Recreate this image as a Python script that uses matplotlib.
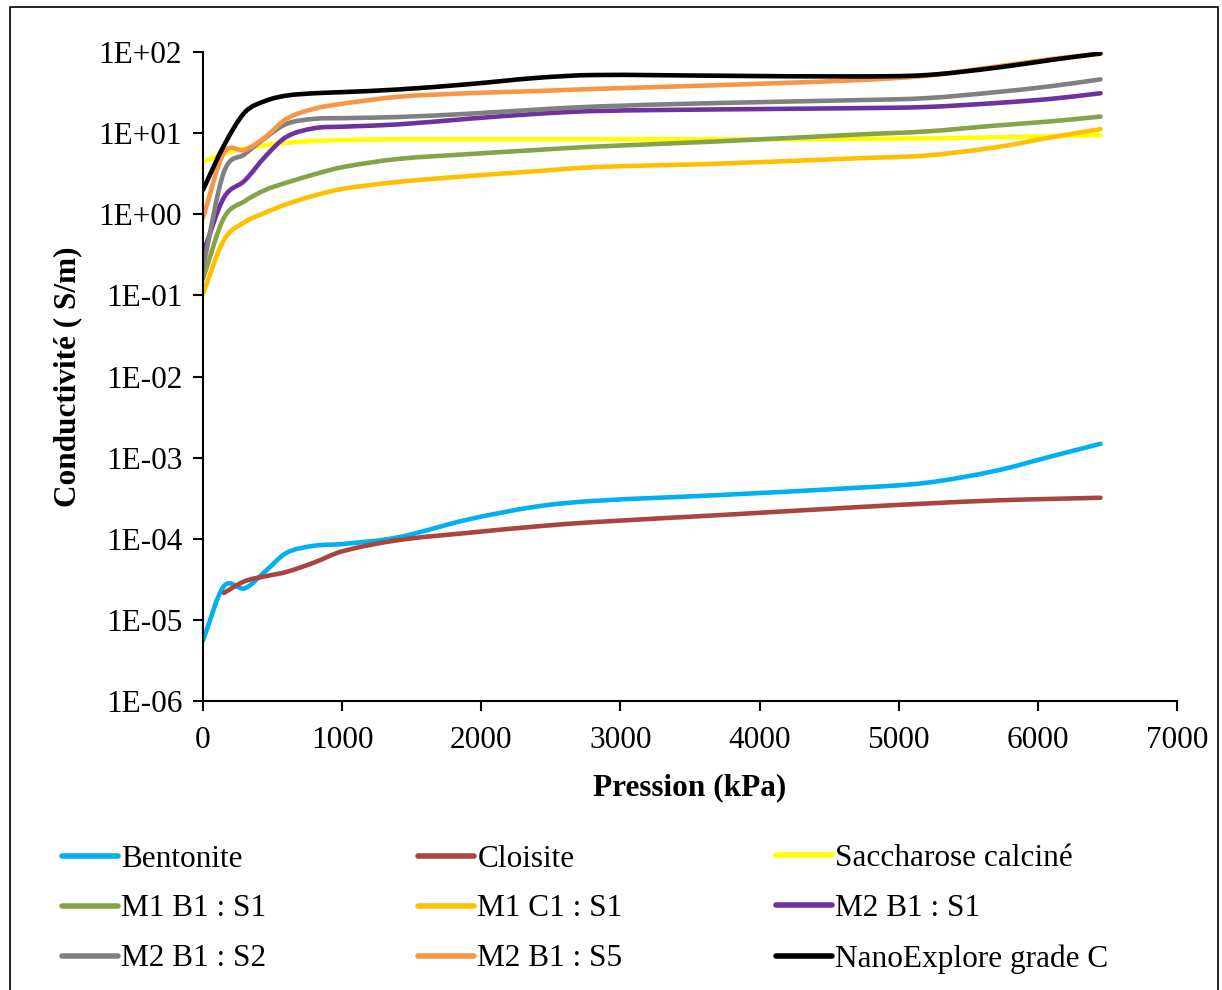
import numpy as np
import matplotlib
matplotlib.use("Agg")
import matplotlib.pyplot as plt
from matplotlib.path import Path
from matplotlib.patches import PathPatch, Rectangle
from matplotlib.lines import Line2D
from matplotlib.ticker import FixedLocator, FuncFormatter

# Pressure (kPa) at which conductivity was recorded
pression = [0, 150, 300, 450, 600, 800, 1000, 1400, 1900, 2400, 2800,
            3700, 4700, 5200, 5700, 6100, 6450]

# Conductivity (S/m) for each material
bentonite = [5.6e-6, 2.6e-5, 2.45e-5, 4.0e-5, 6.7e-5, 8.2e-5, 8.6e-5, 1.04e-4,
             1.72e-4, 2.5e-4, 2.92e-4, 3.45e-4, 4.25e-4, 4.9e-4, 6.9e-4, 1.04e-3, 1.48e-3]
cloisite = [None, 2.15e-5, 3.0e-5, 3.45e-5, 3.9e-5, 5.1e-5, 7.0e-5, 9.6e-5,
            1.18e-4, 1.42e-4, 1.6e-4, 1.95e-4, 2.45e-4, 2.72e-4, 2.97e-4, 3.1e-4, 3.2e-4]
saccharose = [4.4, 5.6, 6.5, 7.1, 7.6, 8.0, 8.2, 8.4, 8.4, 8.4, 8.4,
              8.4, 8.5, 8.6, 8.9, 9.2, 9.5]
m1_b1_s1 = [0.16, 0.9, 1.45, 2.0, 2.45, 3.1, 3.8, 4.8, 5.5, 6.2, 6.8,
            7.9, 9.6, 10.5, 12.4, 14.0, 16.0]
m1_c1_s1 = [0.105, 0.48, 0.8, 1.05, 1.33, 1.7, 2.05, 2.5, 2.95, 3.4, 3.8,
            4.2, 4.9, 5.3, 6.7, 8.9, 11.2]
m2_b1_s1 = [0.33, 1.6, 2.6, 5.2, 9.0, 11.5, 12.0, 12.8, 15.0, 17.3, 18.7,
            19.6, 20.3, 21.0, 23.5, 26.5, 31.0]
m2_b1_s2 = [0.22, 3.3, 5.5, 8.8, 13.0, 15.0, 15.3, 15.8, 17.3, 19.5, 21.2,
            23.5, 25.5, 27.0, 32.0, 38.0, 46.0]
m2_b1_s5 = [0.9, 5.7, 6.2, 9.0, 15.0, 20.0, 23.0, 28.0, 31.0, 33.0, 35.0,
            39.0, 45.0, 51.0, 66.0, 82.0, 95.0]
nanoexplore = [2.0, 7.0, 18.0, 25.0, 29.0, 31.0, 32.0, 34.5, 40.0, 48.0, 52.0,
               51.0, 50.0, 52.0, 64.0, 80.0, 96.0]

labels = ["Bentonite", "Cloisite", "Saccharose calciné",
          "M1 B1 : S1", "M1 C1 : S1", "M2 B1 : S1",
          "M2 B1 : S2", "M2 B1 : S5", "NanoExplore grade C"]
series = [bentonite, cloisite, saccharose, m1_b1_s1, m1_c1_s1, m2_b1_s1,
          m2_b1_s2, m2_b1_s5, nanoexplore]
colors = ["#00B0F0", "#A9443F", "#FFFF00", "#86A34A", "#FFC000", "#7030A0",
          "#808080", "#F79646", "#000000"]

plt.rcParams["font.family"] = ["Liberation Serif", "DejaVu Serif"]
FS = 22.5
LW = 3.3


def smooth_path(x, y):
    """Cubic Hermite (Bezier) path through the points, built in
    (x, log10 y) space so the curve is smooth on the log axis."""
    pts = [(xi, np.log10(yi)) for xi, yi in zip(x, y) if yi is not None]
    p = np.array(pts, dtype=float)
    px, py = p[:, 0], p[:, 1]
    n = len(p)
    m = np.empty(n)
    m[0] = (py[1] - py[0]) / (px[1] - px[0])
    m[-1] = (py[-1] - py[-2]) / (px[-1] - px[-2])
    for i in range(1, n - 1):
        m[i] = (py[i + 1] - py[i - 1]) / (px[i + 1] - px[i - 1])
    verts = [p[0]]
    codes = [Path.MOVETO]
    for i in range(n - 1):
        h = px[i + 1] - px[i]
        c1 = (px[i] + h / 3, py[i] + m[i] * h / 3)
        c2 = (px[i + 1] - h / 3, py[i + 1] - m[i + 1] * h / 3)
        verts += [c1, c2, p[i + 1]]
        codes += [Path.CURVE4] * 3
    v = np.array(verts, dtype=float)
    v[:, 1] = 10.0 ** v[:, 1]
    return Path(v, codes)


fig = plt.figure(figsize=(12.22, 9.9), dpi=100)
ax = fig.add_axes([203 / 1222, 1 - 701 / 990, (1177 - 203) / 1222, (701 - 52) / 990])
ax.set_yscale("log")
ax.set_xlim(0, 7000)
ax.set_ylim(1e-6, 1e2)

for vals, col in zip(series, colors):
    patch = PathPatch(smooth_path(pression, vals), facecolor="none", edgecolor=col,
                      lw=LW, capstyle="round", joinstyle="round")
    ax.add_patch(patch)

for side in ("top", "right"):
    ax.spines[side].set_visible(False)
for side in ("left", "bottom"):
    ax.spines[side].set_linewidth(1.5)

ax.xaxis.set_major_locator(FixedLocator(np.arange(0, 7001, 1000)))
ax.yaxis.set_major_locator(FixedLocator([10.0 ** e for e in range(-6, 3)]))
ax.yaxis.set_minor_locator(FixedLocator([]))
ax.yaxis.set_major_formatter(FuncFormatter(lambda v, _: "1E{:+03d}".format(int(round(np.log10(v))))))
ax.tick_params(axis="both", which="major", labelsize=FS, length=7, width=1.5,
               direction="out")
ax.tick_params(axis="y", pad=8)
ax.tick_params(axis="x", pad=11)

ax.set_xlabel("Pression (kPa)", fontsize=FS, fontweight="bold", labelpad=13)
ax.set_ylabel("Conductivité ( S/m)", fontsize=FS, fontweight="bold", labelpad=12)

# Legend: three columns of three entries
col_x = [62, 418, 776]
for c in range(3):
    idx = [c, c + 3, c + 6]
    handles = [Line2D([], [], color=colors[i], lw=LW + 0.7, solid_capstyle="round")
               for i in idx]
    fig.legend(handles, [labels[i] for i in idx], loc="center left",
               bbox_to_anchor=(col_x[c] / 1222, 1 - 909 / 990),
               frameon=False, fontsize=FS, handlelength=1.8,
               handletextpad=0.1, labelspacing=0.67, borderpad=0,
               borderaxespad=0)

fig.patches.append(Rectangle((10 / 1222, -0.01), 1208 / 1222, 1.01 - 7 / 990,
                             transform=fig.transFigure, fill=False,
                             edgecolor="black", lw=1.2))

fig.savefig("out.png", dpi=100)
